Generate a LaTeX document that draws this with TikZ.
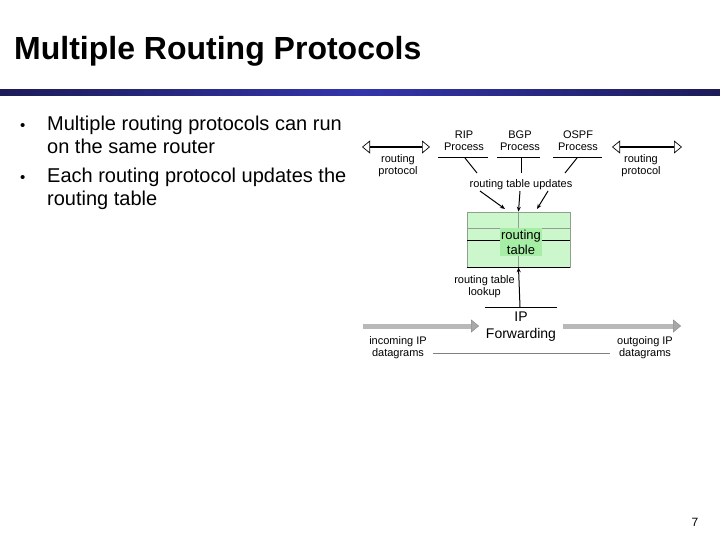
\documentclass[tikz,border=0pt]{standalone}
\usepackage{fontspec}
\setmainfont{Liberation Sans}
\usetikzlibrary{arrows.meta}
\definecolor{barDark}{HTML}{1C1C58}
\definecolor{barMid}{HTML}{3434AC}
\definecolor{tblFill}{HTML}{CCF7CC}
\definecolor{tblHi}{HTML}{A6EEA6}
\definecolor{tblLine}{HTML}{8FA08F}
\definecolor{flowGray}{HTML}{B9B9B9}
\definecolor{flowHead}{HTML}{A8A8A8}
\definecolor{flowEdge}{HTML}{888888}
\begin{document}
\begin{tikzpicture}[x=1pt,y=-1pt,
  lbl/.style={font=\fontsize{11}{12}\selectfont, align=center, inner sep=0pt},
  btxt/.style={font=\fontsize{20}{23}\selectfont, anchor=base west, inner sep=0pt},
  bdot/.style={font=\fontsize{15}{18}\selectfont, anchor=base west, inner sep=0pt},
  plain/.style={line width=1pt, draw=black},
  upd/.style={line width=1pt, draw=black, -{Stealth[length=5pt,width=4pt]}},
  proto/.style={line width=2pt, draw=black,
     {Triangle[open,length=8pt,width=13pt,line width=0.7pt]}-{Triangle[open,length=8pt,width=13pt,line width=0.7pt]}},
  flow/.style={line width=5pt, draw=flowGray,
     -{Triangle[length=8pt,width=13pt,fill=flowHead,color=flowEdge,line width=0.4pt]}}
]
\useasboundingbox (0,0) rectangle (720,540);
% title
\node[anchor=base west, inner sep=0pt, font=\fontsize{32}{36}\selectfont\bfseries] (title) at (14,60) {Multiple Routing Protocols};
\shade[left color=barDark, right color=barDark, middle color=barMid] (0,90) rectangle (720,96);
% bullets
\node[bdot] (d1) at (20,131) {•};
\node[btxt] (t1) at (47,131) {Multiple routing protocols can run};
\node[btxt] (t2) at (47,154) {on the same router};
\node[bdot] (d2) at (20,183) {•};
\node[btxt] (t3) at (47,183) {Each routing protocol updates the};
\node[btxt] (t4) at (47,206) {routing table};
% page number
\node[anchor=base, inner sep=0pt, font=\fontsize{12}{14}\selectfont] (pg) at (695,526) {7};

% processes
\node[lbl] (rip) at (464,140.5) {RIP\\Process};
\node[lbl] (bgp) at (520,140.5) {BGP\\Process};
\node[lbl] (ospf) at (578,140.5) {OSPF\\Process};
\coordinate (ripL) at (438,158); \coordinate (ripR) at (488,158);
\coordinate (bgpL) at (497,158); \coordinate (bgpR) at (540,158);
\coordinate (ospfL) at (553,158); \coordinate (ospfR) at (602,158);
\draw[plain] (ripL) -- (ripR);
\draw[plain] (bgpL) -- (bgpR);
\draw[plain] (ospfL) -- (ospfR);
\coordinate (ripA) at (465,158); \coordinate (ripB) at (477,173);
\coordinate (bgpA) at (521,158); \coordinate (bgpB) at (521,173);
\coordinate (ospfA) at (577,158); \coordinate (ospfB) at (565,173);
\draw[plain] (ripA) -- (ripB);
\draw[plain] (bgpA) -- (bgpB);
\draw[plain] (ospfA) -- (ospfB);
\node[lbl] (updl) at (521,185) {routing table updates};

% routing protocol arrows
\coordinate (lpA) at (362,147); \coordinate (lpB) at (430,147);
\coordinate (rpA) at (612,147); \coordinate (rpB) at (682,147);
\draw[proto] (lpA) -- (lpB);
\draw[proto] (rpA) -- (rpB);
\node[lbl] (lproto) at (398,166) {routing\\protocol};
\node[lbl] (rproto) at (641,166) {routing\\protocol};

% routing table
\node[draw=tblLine, fill=tblFill, minimum width=103pt, minimum height=55pt, inner sep=0pt, line width=0.6pt] (tbl) at (518.5,239.5) {};
\draw[tblLine, line width=0.6pt] (tbl.north) -- (tbl.south);
\coordinate (h1L) at (467,228); \coordinate (h1R) at (570,228);
\coordinate (h2L) at (467,240); \coordinate (h2R) at (570,240);
\draw[tblLine, line width=0.6pt] (h1L) -- (h1R);
\draw[black, line width=0.8pt] (h2L) -- (h2R);
\draw[black, line width=0.8pt] (tbl.south west) -- (tbl.south east);
\node[fill=tblHi, minimum width=42pt, minimum height=28pt, inner sep=0pt,
      font=\fontsize{13}{15}\selectfont, align=center] (tbltxt) at (521,242) {routing\\table};

% update arrows into table
\coordinate (uA1) at (480,191); \coordinate (uB1) at (505,209);
\coordinate (uA2) at (520,191);
\coordinate (uA3) at (548,191); \coordinate (uB3) at (537,209);
\draw[upd] (uA1) -- (uB1);
\draw[upd] (uA2) -- (tbl.north);
\draw[upd] (uA3) -- (uB3);

% IP forwarding
\coordinate (fwL) at (485,307); \coordinate (fwR) at (557,307);
\coordinate (fwM) at (520,307);
\draw[plain] (fwL) -- (fwR);
\draw[upd] (fwM) -- (tbl.south);
\node[lbl, anchor=east] (lookup) at (515,287) {routing table\\lookup};
\node[inner sep=0pt, align=center, font=\fontsize{14}{17}\selectfont] (fwd) at (521,327) {IP\\Forwarding};

% datagram flow
\coordinate (inA) at (363,326); \coordinate (inB) at (479,326);
\coordinate (outA) at (563,326); \coordinate (outB) at (681,326);
\draw[flow] (inA) -- (inB);
\draw[flow] (outA) -- (outB);
\node[lbl] (inl) at (398,348) {incoming IP\\datagrams};
\node[lbl] (outl) at (645,348) {outgoing IP\\datagrams};
\coordinate (gL) at (433,353); \coordinate (gR) at (610,353);
\draw[gray, line width=0.8pt] (gL) -- (gR);
\end{tikzpicture}
\end{document}
